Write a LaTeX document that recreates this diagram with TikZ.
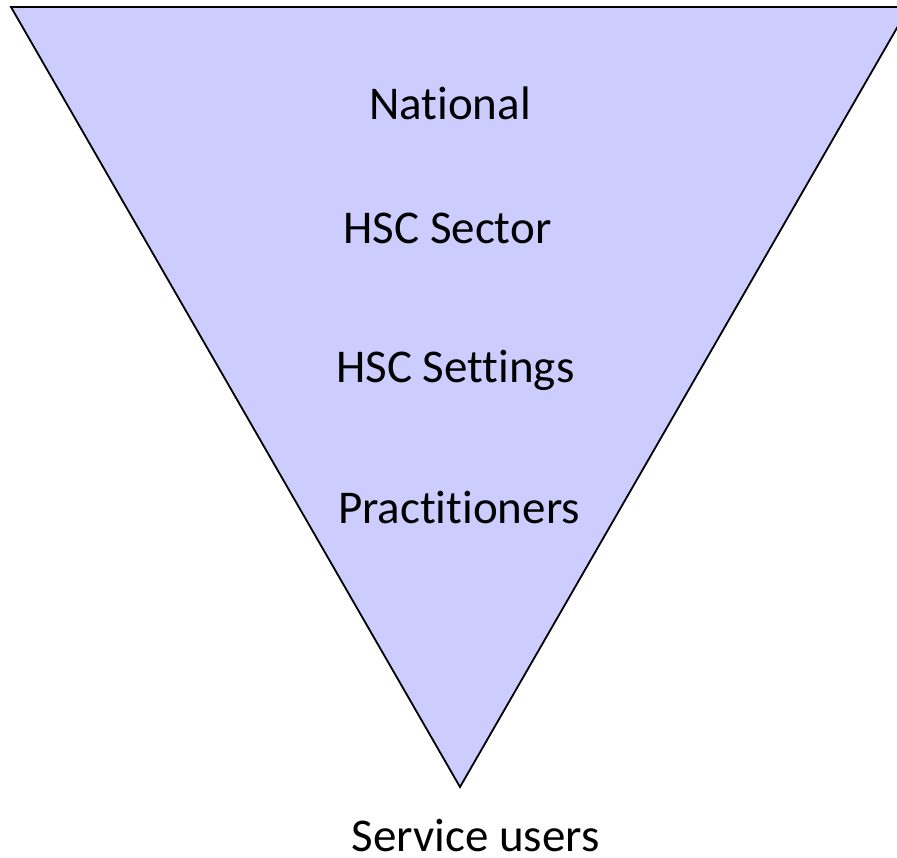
\documentclass[tikz,border=0pt]{standalone}
\usepackage{fontspec}
\setmainfont[Ligatures=NoCommon]{Carlito}
\definecolor{funnelblue}{HTML}{CCCCFF}
\tikzset{level/.style={anchor=base, font=\fontsize{47}{56}\selectfont, inner sep=0pt}}
\begin{document}
\begin{tikzpicture}[x=1pt, y=-1pt]
            \clip (0,0) rectangle (897,857);
            \draw[line width=1.8pt, black, fill=funnelblue] (11,7) -- (909,7) -- (460,787) -- cycle;
            \node[level] (national) at (450,119) {National};
            \node[level] (sector) at (447.5,243) {HSC Sector};
            \node[level] (settings) at (455.5,382) {HSC Settings};
            \node[level] (practitioners) at (459,523) {Practitioners};
            \node[level] (users) at (475.5,851) {Service users};
        \end{tikzpicture}
\end{document}
